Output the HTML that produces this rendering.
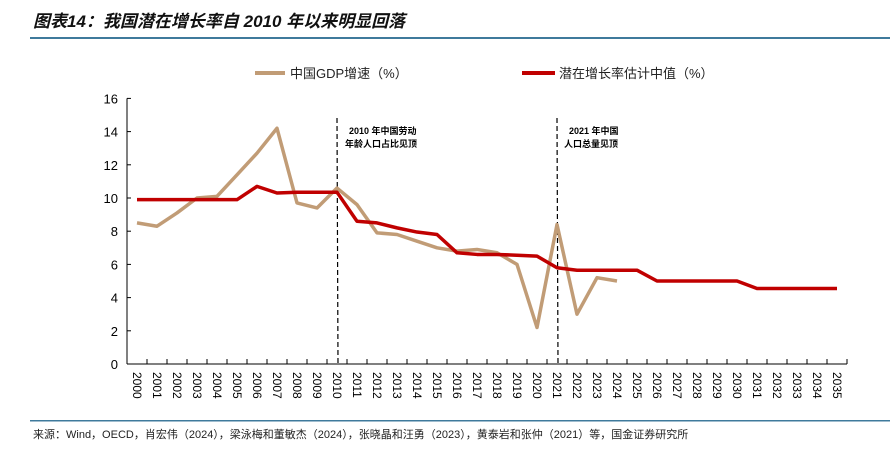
<!DOCTYPE html>
<html><head><meta charset="utf-8">
<style>
body{margin:0;background:#fff;width:890px;height:444px;overflow:hidden;font-family:"Liberation Sans","Noto Sans CJK SC",sans-serif;}
</style></head><body>
<svg id="chart" width="890" height="444" xmlns="http://www.w3.org/2000/svg">
<text x="33" y="27" font-size="17" font-weight="bold" font-style="italic" fill="#111" font-family="Liberation Sans,Noto Sans CJK SC,sans-serif">图表14：我国潜在增长率自 2010 年以来明显回落</text>
<rect x="30" y="37" width="860" height="2" fill="#3f7a9c"/>
<g>
<line x1="255" y1="73" x2="285" y2="73" stroke="#c19c76" stroke-width="4"/>
<text x="290" y="78" font-size="13" fill="#222">中国GDP增速（%）</text>
<line x1="522" y1="73" x2="555" y2="73" stroke="#c00000" stroke-width="4"/>
<text x="559" y="78" font-size="13" fill="#222">潜在增长率估计中值（%）</text>
</g>
<g id="plot"></g>
<rect x="30" y="420" width="860" height="1.5" fill="#3f7a9c"/>
<text x="33" y="438" font-size="11" fill="#222">来源：Wind，OECD，肖宏伟（2024），梁泳梅和董敏杰（2024），张晓晶和汪勇（2023），黄泰岩和张仲（2021）等，国金证券研究所</text>
</svg>
<script>
const years = [];
for (let y = 2000; y <= 2035; y++) years.push(String(y));
const gdpGrowth = [8.5,8.3,9.1,10.0,10.1,11.4,12.7,14.2,9.7,9.4,10.6,9.6,7.9,7.8,7.4,7.0,6.8,6.9,6.7,6.0,2.2,8.4,3.0,5.2,5.0];
const potentialGrowth = [9.9,9.9,9.9,9.9,9.9,9.9,10.7,10.3,10.35,10.35,10.35,8.6,8.5,8.2,7.95,7.8,6.7,6.6,6.6,6.55,6.5,5.8,5.65,5.65,5.65,5.65,5.0,5.0,5.0,5.0,5.0,4.55,4.55,4.55,4.55,4.55];
const yTicks = [0,2,4,6,8,10,12,14,16];
const markerYears = ["2010","2021"];
const markerNotes = [["2010 年中国劳动","年龄人口占比见顶"],["2021 年中国","人口总量见顶"]];

const NS="http://www.w3.org/2000/svg";
const plot=document.getElementById('plot');
const x0=127, step=20, yBase=364, yPer=16.6;
const xAt=i=>x0+step/2+i*step;
const yAt=v=>yBase-v*yPer;
function mk(tag,attrs){const e=document.createElementNS(NS,tag);for(const k in attrs)e.setAttribute(k,attrs[k]);plot.appendChild(e);return e;}

const xEnd=x0+years.length*step;
let ax=mk('line',{x1:x0,y1:yAt(16),x2:x0,y2:yBase,stroke:'#000','stroke-width':1});


let bx=mk('line',{x1:x0,y1:yBase,x2:xEnd,y2:yBase,stroke:'#000','stroke-width':1});


yTicks.forEach(v=>{
  let t=mk('line',{x1:x0,y1:yAt(v),x2:x0+4,y2:yAt(v),stroke:'#000'});
  
  
  let l=mk('text',{x:x0-9,y:yAt(v)+5,'font-size':13,'text-anchor':'end',fill:'#000'});
  
  
  l.textContent=v;
});
for(let i=0;i<=years.length;i++){
  let t=mk('line',{x1:x0+i*step,y1:yBase,x2:x0+i*step,y2:yBase-5,stroke:'#000'});
  
  
}
years.forEach((y,i)=>{
  let l=mk('text',{x:0,y:0,'font-size':12,fill:'#000',transform:`translate(${xAt(i)-4},372) rotate(90)`});
  
  
  l.textContent=y;
});
markerYears.forEach((y,k)=>{
  const i=years.indexOf(y);
  let d=mk('line',{x1:xAt(i),y1:118,x2:xAt(i)+1,y2:yBase,stroke:'#000','stroke-width':1.2,'stroke-dasharray':'5,3'});
  
  
  markerNotes[k].forEach((s,j)=>{
    let t=mk('text',{x:xAt(i)+(k==0?(j==0?12:8):(j==0?12:7)),y:134+j*13,'font-size':9,'font-weight':'bold',fill:'#000'});
    
    
    t.textContent=s;
  });
});
function line(data,color,name){
  const pts=data.map((v,i)=>xAt(i)+','+yAt(v)).join(' ');
  let p=mk('polyline',{points:pts,fill:'none',stroke:color,'stroke-width':3.5,'stroke-linejoin':'round'});
  
  
}
line(gdpGrowth,'#c19c76','gdp-growth-line');
line(potentialGrowth,'#c00000','potential-growth-line');
</script>
</body></html>
